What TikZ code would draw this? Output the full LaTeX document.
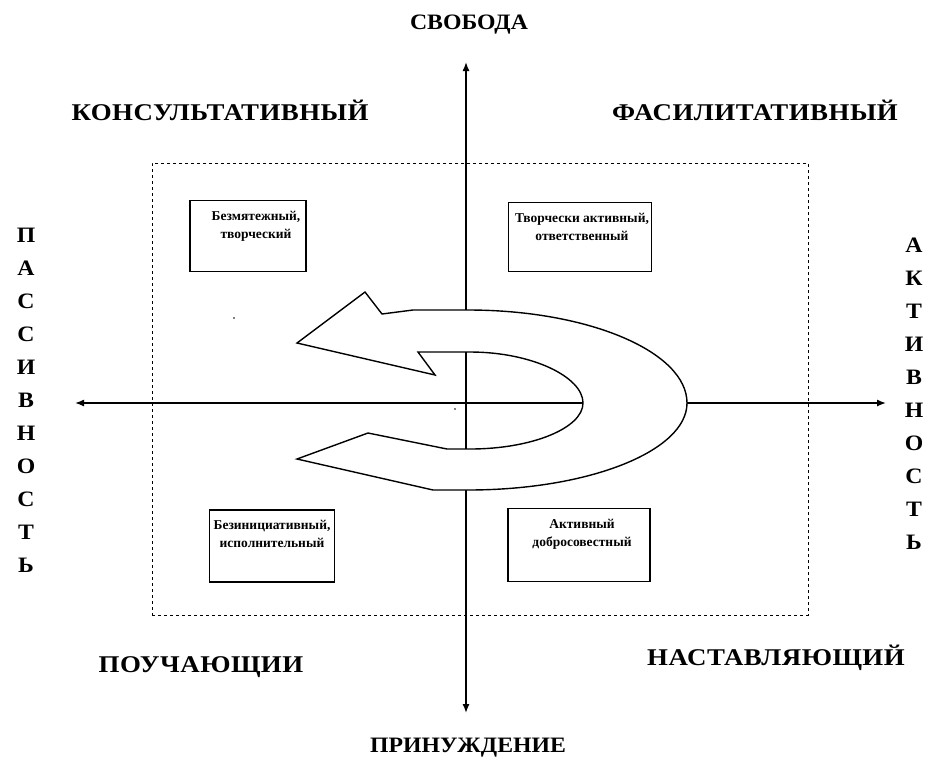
\documentclass[tikz,border=0pt]{standalone}
\usepackage{fontspec}
\setmainfont{Liberation Serif}
\newfontfamily\widefont[FakeStretch=1.12, LetterSpace=2]{Liberation Serif}
\newfontfamily\midfont[FakeStretch=1.08]{Liberation Serif}
\usetikzlibrary{arrows.meta}
\tikzset{
  axis/.style={line width=1.4pt, -{Latex[length=9pt,width=7pt]}},
  biglabel/.style={font=\widefont\fontsize{24}{26}\selectfont\bfseries, inner sep=0pt},
  endlabel/.style={font=\midfont\fontsize{22}{24}\selectfont\bfseries, inner sep=0pt},
  vlabel/.style={font=\midfont\fontsize{22}{33}\selectfont\bfseries, inner sep=0pt, align=center},
  stylebox/.style={draw, line width=1.4pt},
  boxtext/.style={font=\fontsize{13.5}{18}\selectfont\bfseries, inner sep=0pt, align=center},
  loop/.style={draw, line width=1.4pt, fill=white},
}
\begin{document}
\begin{tikzpicture}[x=1pt,y=-1pt]
\useasboundingbox (0,0) rectangle (928,769);
% dashed frame
\node[draw, dashed, line width=0.9pt, minimum width=656pt, minimum height=452pt, inner sep=0pt] (frame) at (480,389) {};
% axes
\coordinate (top) at (466,62);
\coordinate (bottom) at (466,713);
\coordinate (left) at (75,403);
\coordinate (right) at (886,403);
\coordinate (c) at (466,403);
\draw[axis] (c) -- (top);
\draw[axis] (c) -- (bottom);
\draw[axis] (c) -- (left);
\draw[axis] (c) -- (right);
% loop arrow
\path[loop] (297,343) -- (365,292) -- (382,314) -- (413,310) -- (468,310)
  .. controls (589,310) and (687,352) .. (687,403)
  .. controls (687,451) and (589,490) .. (468,490)
  -- (433,490) -- (297,459) -- (368,433) -- (447,449) -- (470,449)
  .. controls (532,449) and (583,428) .. (583,403)
  .. controls (583,377) and (532,352) .. (470,352)
  -- (418,352) -- (435,375) -- cycle;
% inner axis segments
\draw[line width=1.4pt] (466,352) -- (466,449);
\draw[line width=1.4pt] (466,403) -- (583,403);
% small dots
\fill (455,409) circle (0.9pt);
\fill (234,318) circle (0.9pt);
% boxes
\node[stylebox, minimum width=116pt, minimum height=71pt] (tl) at (248,236) {};
\node[stylebox, minimum width=143pt, minimum height=69pt] (tr) at (580,237) {};
\node[stylebox, minimum width=125pt, minimum height=72pt] (bl) at (272,546) {};
\node[stylebox, minimum width=142pt, minimum height=73pt] (br) at (579,545) {};
\node[boxtext] (tlt) at (256,226) {Безмятежный,\\творческий};
\node[boxtext] (trt) at (582,227) {Творчески активный,\\ответственный};
\node[boxtext] (blt) at (272,534) {Безинициативный,\\исполнительный};
\node[boxtext] (brt) at (582,534) {Активный\\добросовестный};
% labels
\node[endlabel] (svoboda) at (469,25) {СВОБОДА};
\node[endlabel] (prin) at (468,748) {ПРИНУЖДЕНИЕ};
\node[biglabel] (kons) at (220,110) {КОНСУЛЬТАТИВНЫЙ};
\node[biglabel] (fas) at (755,110) {ФАСИЛИТАТИВНЫЙ};
\node[biglabel] (pouch) at (201,667) {ПОУЧАЮЩИИ};
\node[biglabel] (nast) at (776,658) {НАСТАВЛЯЮЩИЙ};
\node[vlabel, anchor=north] (pass) at (26,228) {П\\А\\С\\С\\И\\В\\Н\\О\\С\\Т\\Ь};
\node[vlabel, anchor=north] (akt) at (914,238) {А\\К\\Т\\И\\В\\Н\\О\\С\\Т\\Ь};
\end{tikzpicture}
\end{document}
